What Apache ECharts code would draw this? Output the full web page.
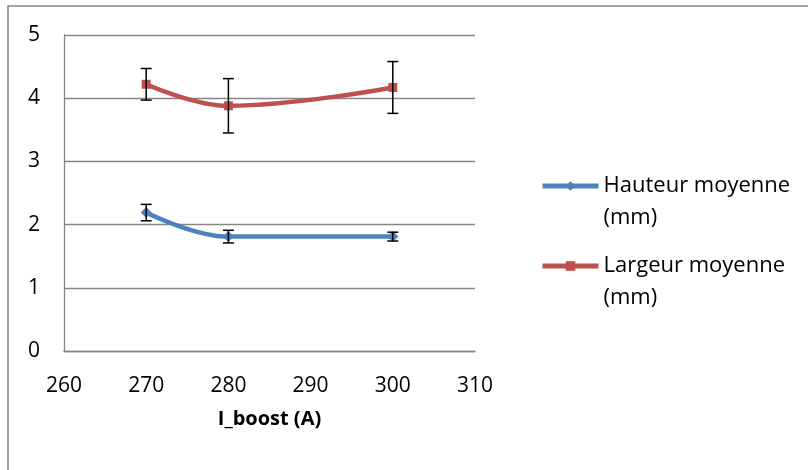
<!DOCTYPE html>
<html><head><meta charset="utf-8">
<script src="https://cdn.jsdelivr.net/npm/echarts@6/dist/echarts.min.js"></script>
<style>html,body{margin:0;padding:0;background:#fff}#c{width:808px;height:470px}</style>
</head><body><div id="c"></div>
<script>
const xValues = [270, 280, 300];
const hauteur = [2.19, 1.81, 1.81];
const hauteurErr = [0.13, 0.10, 0.07];
const largeur = [4.22, 3.88, 4.17];
const largeurErr = [0.25, 0.43, 0.41];
const seriesNames = ['Hauteur moyenne (mm)', 'Largeur moyenne (mm)'];
const xTitle = 'I_boost (A)';

const FONT = 'Open Sans';
function errData(vals, errs) {
  return xValues.map((x, i) => [x, vals[i] - errs[i], vals[i] + errs[i]]);
}
function errRender(params, api) {
  const x = api.value(0);
  const lo = api.coord([x, api.value(1)]);
  const hi = api.coord([x, api.value(2)]);
  const w = 5.5;
  const st = {stroke: '#000', lineWidth: 1.5};
  return {type: 'group', children: [
    {type: 'line', shape: {x1: lo[0], y1: lo[1], x2: hi[0], y2: hi[1]}, style: st},
    {type: 'line', shape: {x1: lo[0]-w, y1: lo[1], x2: lo[0]+w, y2: lo[1]}, style: st},
    {type: 'line', shape: {x1: hi[0]-w, y1: hi[1], x2: hi[0]+w, y2: hi[1]}, style: st}
  ]};
}
const chart = echarts.init(document.getElementById('c'), null, {renderer: 'canvas'});
chart.setOption({
  animation: false,
  backgroundColor: '#fff',
  textStyle: {fontFamily: FONT},
  graphic: [{type: 'rect', shape: {x: 8, y: 6, width: 820, height: 490}, style: {fill: 'none', stroke: '#868686', lineWidth: 1.5}, silent: true}],
  grid: {left: 64, right: 333, top: 35, bottom: 119},
  xAxis: {
    type: 'value', min: 260, max: 310, interval: 10,
    name: xTitle, nameLocation: 'middle', nameGap: 58,
    nameTextStyle: {fontFamily: FONT, fontSize: 20, fontWeight: 'bold', color: '#000'},
    axisLine: {show: true, lineStyle: {color: '#868686', width: 1.3}},
    axisTick: {show: false},
    axisLabel: {fontFamily: FONT, fontSize: 21, color: '#000', margin: 25},
    splitLine: {show: false}
  },
  yAxis: {
    type: 'value', min: 0, max: 5, interval: 1,
    axisLine: {show: true, lineStyle: {color: '#868686', width: 1.3}},
    axisTick: {show: false},
    axisLabel: {fontFamily: FONT, fontSize: 21, color: '#000', margin: 24},
    splitLine: {show: true, lineStyle: {color: '#868686', width: 1.3}}
  },
  legend: {
    orient: 'vertical', left: 535, top: 133,
    itemWidth: 56, itemHeight: 12, itemGap: -16,
    data: seriesNames,
    lineStyle: {width: 5},
    formatter: n => ' \n' + n.replace(' (', '\n('),
    textStyle: {fontFamily: FONT, fontSize: 22, color: '#000', lineHeight: 32}
  },
  series: [
    {name: seriesNames[0], type: 'line', smooth: 0.4, data: xValues.map((x, i) => [x, hauteur[i]]),
     symbol: 'diamond', symbolSize: 11, itemStyle: {color: '#4F81BD'}, lineStyle: {color: '#4F81BD', width: 4.5}, z: 3},
    {name: seriesNames[1], type: 'line', smooth: 0.4, data: xValues.map((x, i) => [x, largeur[i]]),
     symbol: 'rect', symbolSize: 9, itemStyle: {color: '#C0504D'}, lineStyle: {color: '#C0504D', width: 4.5}, z: 3},
    {type: 'custom', renderItem: errRender, data: errData(hauteur, hauteurErr), encode: {x: 0, y: [1, 2]}, z: 5, silent: true},
    {type: 'custom', renderItem: errRender, data: errData(largeur, largeurErr), encode: {x: 0, y: [1, 2]}, z: 5, silent: true}
  ]
});
</script></body></html>
